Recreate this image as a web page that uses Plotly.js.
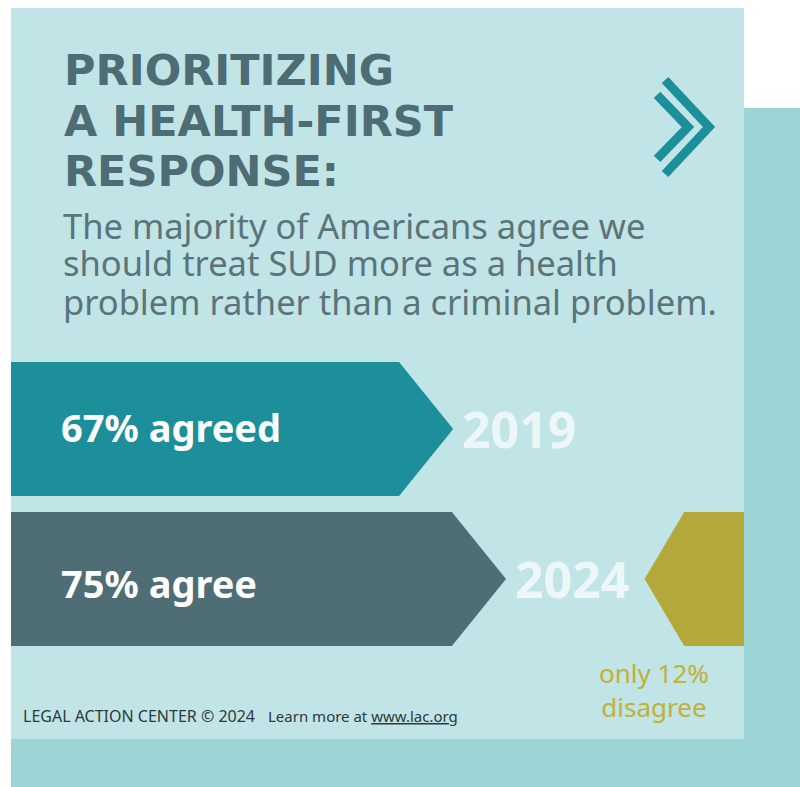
<!DOCTYPE html>
<html>
<head>
<meta charset="utf-8">
<script src="https://cdn.plot.ly/plotly-3.0.1.min.js"></script>
<style>html,body{margin:0;padding:0;background:#fff;}#chart{width:800px;height:787px;}</style>
</head>
<body>
<div id="chart"></div>
<script>
// ---- data ----
const years = ['2019', '2024'];
const agreeValues = [67, 75];
const agreeLabels = ['67% agreed', '75% agree'];
const disagreeValue = 12;
const disagreeLabels = ['only 12%', 'disagree'];
const titleLines = ['PRIORITIZING', 'A HEALTH-FIRST', 'RESPONSE:'];
const subtitleLines = ['The majority of Americans agree we', 'should treat SUD more as a health', 'problem rather than a criminal problem.'];
const footerLeft = 'LEGAL ACTION CENTER © 2024';
const footerRight = 'Learn more at <u>www.lac.org</u>';

// ---- style ----
const W = 800, H = 787;
const FONT = '"Noto Sans", "DejaVu Sans", sans-serif';
const TITLE_FONT = '"DejaVu Sans", "Noto Sans", sans-serif';
const C = {
  light: '#c1e4e6', dark: '#9dd4d6', teal: '#1d8f9a', slate: '#4f6d75',
  olive: '#b4a83a', title: '#4d6c73', sub: '#5a747a', year: '#eef7f8',
  oliveText: '#c0b03c', footer: '#2e393c'
};
const barColors = [C.teal, C.slate];
const px = v => v / W;            // pixel -> paper x
const py = v => 1 - v / H;        // pixel -> paper y
const halfH = 0.446, tipLen = 8.2;
const oliveBody = 10, oliveTip = 6;
const xMax = 111.06;

const traces = [];
agreeValues.forEach((v, i) => {
  traces.push({
    type: 'scatter', mode: 'lines', fill: 'toself',
    x: [0, v - tipLen, v, v - tipLen, 0, 0],
    y: [i - halfH, i - halfH, i, i + halfH, i + halfH, i - halfH],
    line: {width: 0, color: barColors[i]}, fillcolor: barColors[i],
    hoverinfo: 'skip', showlegend: false
  });
});
// disagree marker (points left, from right edge of 100 + value)
const dEnd = 100 + disagreeValue;
traces.push({
  type: 'scatter', mode: 'lines', fill: 'toself',
  x: [dEnd, dEnd - oliveBody, dEnd - oliveBody - oliveTip, dEnd - oliveBody, dEnd, dEnd],
  y: [1 - halfH, 1 - halfH, 1, 1 + halfH, 1 + halfH, 1 - halfH],
  line: {width: 0, color: C.olive}, fillcolor: C.olive,
  hoverinfo: 'skip', showlegend: false
});

const ann = [];
const titleY = [69.5, 121, 171];
titleLines.forEach((t, i) => ann.push({
  xref: 'paper', yref: 'paper', x: px(62), y: py(titleY[i]), xanchor: 'left', yanchor: 'middle',
  text: '<b>' + t + '</b>', showarrow: false, font: {family: TITLE_FONT, size: 43, color: C.title}
}));
const subY = [225, 263, 301];
subtitleLines.forEach((t, i) => ann.push({
  xref: 'paper', yref: 'paper', x: px(61), y: py(subY[i]), xanchor: 'left', yanchor: 'middle',
  text: t, showarrow: false, font: {family: FONT, size: 34.5, color: C.sub}
}));
const labelY = [427, 582.5];
agreeLabels.forEach((t, i) => ann.push({
  xref: 'paper', yref: 'paper', x: px(59), y: py(labelY[i]), xanchor: 'left', yanchor: 'middle',
  text: '<b>' + t + '</b>', showarrow: false, font: {family: FONT, size: 38, color: '#ffffff'}
}));
years.forEach((t, i) => ann.push({
  xref: 'x', yref: 'y', x: agreeValues[i], y: i, xanchor: 'left', yanchor: 'middle', xshift: 7,
  text: '<b>' + t + '</b>', showarrow: false, font: {family: FONT, size: 50, color: C.year}
}));
ann.push({
  xref: 'paper', yref: 'paper', x: px(654), y: py(690), xanchor: 'center', yanchor: 'middle',
  text: disagreeLabels.join('<br>'), showarrow: false, align: 'center',
  font: {family: FONT, size: 26, color: C.oliveText}
});
ann.push({
  xref: 'paper', yref: 'paper', x: px(21), y: py(716), xanchor: 'left', yanchor: 'middle',
  text: footerLeft, showarrow: false, font: {family: FONT, size: 16, color: C.footer}
});
ann.push({
  xref: 'paper', yref: 'paper', x: px(266), y: py(716), xanchor: 'left', yanchor: 'middle',
  text: footerRight, showarrow: false, font: {family: FONT, size: 15, color: C.footer}
});

function pathOf(pts) {
  return pts.map((p, i) => (i ? 'L' : 'M') + px(p[0]).toFixed(4) + ',' + py(p[1]).toFixed(4)).join(' ');
}
const shapes = [
  {type: 'rect', xref: 'paper', yref: 'paper', x0: px(11), x1: 1, y0: 0, y1: py(108),
   fillcolor: C.dark, line: {width: 0}, layer: 'below'},
  {type: 'rect', xref: 'paper', yref: 'paper', x0: px(11), x1: px(744), y0: py(739), y1: py(8),
   fillcolor: C.light, line: {width: 0}, layer: 'below'},
  {type: 'path', xref: 'paper', yref: 'paper', path: pathOf([[665, 80], [709, 127], [665, 174]]),
   line: {color: C.teal, width: 9}},
  {type: 'path', xref: 'paper', yref: 'paper', path: pathOf([[657, 95], [688, 127], [657, 159]]),
   line: {color: C.teal, width: 9}}
];

const layout = {
  width: W, height: H, margin: {l: 0, r: 0, t: 0, b: 0},
  paper_bgcolor: '#ffffff', plot_bgcolor: 'rgba(0,0,0,0)',
  xaxis: {domain: [px(11), px(744)], range: [0, xMax], visible: false, fixedrange: true},
  yaxis: {domain: [py(739), py(8)], range: [(739 - 429) / 150, (8 - 429) / 150], visible: false, fixedrange: true},
  shapes: shapes, annotations: ann, showlegend: false
};
Plotly.newPlot('chart', traces, layout, {displayModeBar: false, staticPlot: true});
</script>
</body>
</html>
